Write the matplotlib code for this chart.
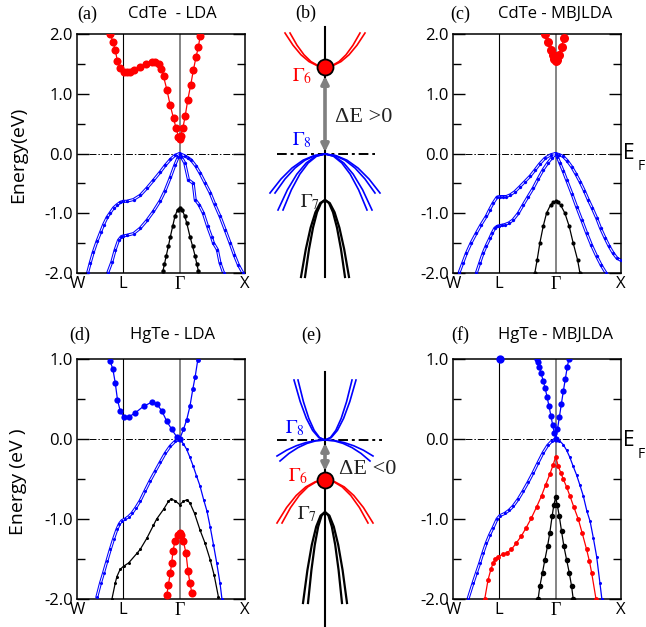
import numpy as np
import matplotlib
matplotlib.use("Agg")
import matplotlib.pyplot as plt

plt.rcParams['font.family'] = ['Open Sans', 'DejaVu Sans']
plt.rcParams['mathtext.fontset'] = 'stix'

W, H = 646, 627
SERIF = 'Liberation Serif'

# high-symmetry points along the path W-L-Gamma-X
kpath = [0.0, 0.707, 1.573, 2.573]
klabels = ['W', 'L', 'Γ', 'X']

# (a) CdTe - LDA
a_red_k = [0.51, 0.55, 0.586, 0.62, 0.66, 0.713, 0.76, 0.815, 0.87, 0.968, 1.05, 1.146, 1.2, 1.25, 1.29,
           1.325, 1.376, 1.427, 1.478, 1.518, 1.554, 1.573, 1.59, 1.62, 1.656, 1.697, 1.742, 1.783, 1.824,
           1.86, 1.885]
a_red_e = [2.0, 1.87, 1.73, 1.54, 1.43, 1.37, 1.36, 1.37, 1.39, 1.45, 1.50, 1.53, 1.53, 1.50, 1.42,
           1.29, 1.07, 0.81, 0.59, 0.42, 0.28, 0.25, 0.30, 0.42, 0.62, 0.90, 1.15, 1.40, 1.62,
           1.79, 1.96]
a_hh_k = [0.162, 0.203, 0.25, 0.306, 0.36, 0.407, 0.46, 0.51, 0.56, 0.61, 0.66, 0.707, 0.76, 0.866, 0.968,
          1.07, 1.17, 1.274, 1.35, 1.43, 1.50, 1.573, 1.65, 1.70, 1.75, 1.82, 1.885, 1.96, 2.04, 2.11,
          2.19, 2.27, 2.345, 2.41, 2.47, 2.54]
a_hh_e = [-2.0, -1.83, -1.65, -1.47, -1.32, -1.19, -1.07, -0.99, -0.91, -0.86, -0.82, -0.80, -0.80, -0.77, -0.70,
          -0.58, -0.45, -0.31, -0.20, -0.10, -0.03, 0.0, -0.04, -0.07, -0.11, -0.21, -0.33, -0.49, -0.66, -0.85,
          -1.05, -1.28, -1.50, -1.70, -1.86, -2.0]
a_lh_k = [0.47, 0.535, 0.585, 0.636, 0.68, 0.707, 0.76, 0.866, 0.968, 1.07, 1.17, 1.274, 1.35, 1.43, 1.50,
          1.55, 1.573, 1.60, 1.65, 1.707, 1.78, 1.81, 1.87, 1.935, 2.0, 2.06, 2.09, 2.15, 2.19, 2.245]
a_lh_e = [-2.0, -1.81, -1.61, -1.45, -1.39, -1.38, -1.37, -1.34, -1.25, -1.12, -0.97, -0.79, -0.62, -0.40, -0.19,
          -0.06, 0.0, -0.06, -0.16, -0.44, -0.50, -0.77, -0.86, -1.0, -1.22, -1.40, -1.5, -1.61, -1.83, -2.0]
a_so_k = [1.315, 1.34, 1.365, 1.40, 1.43, 1.465, 1.50, 1.54, 1.573, 1.61, 1.65, 1.68, 1.73, 1.77, 1.81, 1.835, 1.86]
a_so_e = [-1.97, -1.85, -1.72, -1.55, -1.39, -1.22, -1.05, -0.94, -0.91, -0.94, -1.05, -1.16, -1.39, -1.55, -1.72,
          -1.85, -1.97]

# (c) CdTe - MBJLDA
c_red_k = [1.407, 1.458, 1.494, 1.524, 1.55, 1.573, 1.596, 1.627, 1.662, 1.698]
c_red_e = [2.0, 1.87, 1.74, 1.65, 1.58, 1.55, 1.57, 1.65, 1.79, 1.93]
c_hh_k = [0.092, 0.15, 0.205, 0.28, 0.358, 0.43, 0.51, 0.56, 0.614, 0.675, 0.716, 0.76, 0.818, 0.88, 0.946,
          1.02, 1.10, 1.18, 1.253, 1.33, 1.407, 1.50, 1.573, 1.63, 1.688, 1.75, 1.816, 1.88, 1.944, 2.01,
          2.07, 2.135, 2.2, 2.26, 2.327, 2.39, 2.455, 2.51, 2.573]
c_hh_e = [-2.0, -1.83, -1.67, -1.49, -1.33, -1.19, -1.05, -0.94, -0.83, -0.73, -0.72, -0.72, -0.72, -0.69, -0.64,
          -0.56, -0.47, -0.38, -0.28, -0.17, -0.08, -0.02, 0.0, -0.02, -0.05, -0.12, -0.22, -0.34, -0.47, -0.62,
          -0.77, -0.92, -1.08, -1.25, -1.41, -1.55, -1.67, -1.75, -1.79]
c_lh_k = [0.358, 0.41, 0.46, 0.51, 0.563, 0.60, 0.64, 0.675, 0.706, 0.75, 0.793, 0.86, 0.92, 1.0, 1.074,
          1.15, 1.228, 1.30, 1.381, 1.45, 1.509, 1.573, 1.60, 1.637, 1.69, 1.739, 1.82, 1.893, 1.97, 2.046,
          2.12, 2.2, 2.27, 2.343]
c_lh_e = [-2.0, -1.83, -1.67, -1.54, -1.42, -1.33, -1.25, -1.22, -1.21, -1.20, -1.19, -1.16, -1.11, -1.0, -0.86,
          -0.72, -0.58, -0.43, -0.27, -0.16, -0.08, 0.0, -0.06, -0.16, -0.30, -0.44, -0.67, -0.89, -1.11, -1.33,
          -1.53, -1.72, -1.87, -2.0]
c_so_k = [1.253, 1.289, 1.33, 1.381, 1.432, 1.494, 1.535, 1.573, 1.61, 1.647, 1.714, 1.78, 1.841, 1.908, 1.944]
c_so_e = [-2.0, -1.78, -1.5, -1.22, -1.0, -0.86, -0.815, -0.80, -0.82, -0.86, -1.0, -1.22, -1.5, -1.78, -2.0]

# (d) HgTe - LDA
d_cb_k = [0.49, 0.51, 0.55, 0.586, 0.62, 0.662, 0.713, 0.79, 0.89, 1.02, 1.146, 1.22, 1.30, 1.376, 1.452,
          1.528, 1.573]
d_cb_e = [1.05, 0.97, 0.87, 0.70, 0.49, 0.35, 0.28, 0.275, 0.325, 0.41, 0.46, 0.44, 0.35, 0.22, 0.12,
          0.025, 0.0]
d_cb2_k = [1.573, 1.63, 1.68, 1.73, 1.773, 1.81, 1.85]
d_cb2_e = [0.0, 0.12, 0.24, 0.41, 0.62, 0.78, 0.99]
d_vb_k = [0.306, 0.36, 0.408, 0.46, 0.51, 0.56, 0.611, 0.65, 0.688, 0.739, 0.79, 0.84, 0.90, 0.968, 1.04,
          1.12, 1.20, 1.274, 1.35, 1.427, 1.50, 1.573]
d_vb_e = [-1.97, -1.80, -1.67, -1.52, -1.38, -1.25, -1.13, -1.06, -1.02, -1.0, -0.97, -0.93, -0.86, -0.77, -0.65,
          -0.52, -0.40, -0.29, -0.18, -0.09, -0.03, 0.0]
d_vb2_k = [1.573, 1.63, 1.68, 1.73, 1.78, 1.83, 1.885, 1.94, 1.99, 2.04, 2.09, 2.14, 2.19, 2.22]
d_vb2_e = [0.0, -0.06, -0.13, -0.23, -0.34, -0.46, -0.59, -0.76, -0.90, -1.10, -1.32, -1.55, -1.80, -2.0]
d_blk_k = [0.535, 0.586, 0.611, 0.66, 0.713, 0.79, 0.917, 0.968, 1.07, 1.17, 1.22, 1.325, 1.40, 1.44, 1.50,
           1.573, 1.63, 1.68, 1.73, 1.80, 1.885, 1.96, 2.04, 2.10, 2.165]
d_blk_e = [-2.0, -1.80, -1.72, -1.63, -1.59, -1.55, -1.43, -1.38, -1.24, -1.08, -1.0, -0.88, -0.78, -0.75, -0.77,
           -0.82, -0.78, -0.76, -0.80, -0.93, -1.14, -1.30, -1.51, -1.70, -1.97]
d_red_k = [1.375, 1.40, 1.43, 1.45, 1.47, 1.50, 1.54, 1.573, 1.60, 1.63, 1.67, 1.70, 1.73, 1.76]
d_red_e = [-1.95, -1.82, -1.67, -1.55, -1.40, -1.28, -1.20, -1.18, -1.20, -1.28, -1.43, -1.65, -1.80, -1.93]

# (f) HgTe - MBJLDA
f_cb_k = [1.279, 1.30, 1.32, 1.35, 1.38, 1.41, 1.44, 1.47, 1.50, 1.525, 1.55, 1.573,
          1.60, 1.63, 1.66, 1.69, 1.72, 1.75, 1.775]
f_cb_e = [1.0, 0.96, 0.90, 0.82, 0.73, 0.64, 0.53, 0.41, 0.29, 0.18, 0.08, 0.0,
          0.12, 0.28, 0.44, 0.60, 0.75, 0.90, 1.0]
f_Ldot_k = [0.716]
f_Ldot_e = [1.0]
f_vb_k = [0.23, 0.307, 0.36, 0.41, 0.46, 0.51, 0.56, 0.614, 0.675, 0.716, 0.793, 0.86, 0.92, 1.0, 1.074,
          1.15, 1.228, 1.30, 1.381, 1.45, 1.509, 1.573]
f_vb_e = [-2.0, -1.80, -1.67, -1.55, -1.42, -1.30, -1.20, -1.11, -1.0, -0.96, -0.93, -0.89, -0.84, -0.75, -0.65,
          -0.54, -0.42, -0.30, -0.17, -0.08, -0.03, 0.0]
f_vb2_k = [1.573, 1.63, 1.688, 1.74, 1.79, 1.84, 1.893, 1.945, 1.995, 2.05, 2.10, 2.15, 2.20, 2.25, 2.28]
f_vb2_e = [0.0, -0.02, -0.07, -0.14, -0.23, -0.34, -0.45, -0.58, -0.71, -0.90, -1.03, -1.24, -1.47, -1.80, -2.0]
f_red_k = [0.486, 0.537, 0.58, 0.614, 0.65, 0.69, 0.767, 0.83, 0.895, 0.97, 1.049, 1.12, 1.202, 1.28, 1.356,
           1.42, 1.483, 1.535, 1.573, 1.611, 1.65, 1.688, 1.74, 1.79, 1.85, 1.918, 1.98, 2.046, 2.09, 2.123, 2.19]
f_red_e = [-2.0, -1.76, -1.63, -1.55, -1.50, -1.47, -1.44, -1.42, -1.38, -1.30, -1.21, -1.11, -0.985, -0.85, -0.71,
           -0.57, -0.44, -0.32, -0.22, -0.34, -0.42, -0.50, -0.60, -0.71, -0.85, -1.0, -1.18, -1.38, -1.53, -1.67, -2.0]
f_blk_k = [1.304, 1.33, 1.371, 1.407, 1.448, 1.483, 1.519, 1.545, 1.573, 1.596, 1.627, 1.662, 1.698, 1.74, 1.78,
           1.816, 1.841]
f_blk_e = [-2.0, -1.84, -1.67, -1.51, -1.34, -1.17, -0.96, -0.82, -0.73, -0.82, -0.96, -1.15, -1.34, -1.51, -1.67,
           -1.84, -2.0]

# (b) schematic, CdTe (arbitrary units, Fermi level at 0)
b_red_x1 = [-40, -32, -24, -16, -8, 0, 8, 16, 24, 32, 40]
b_red_x2 = [-35, -28, -21, -14, -7, 0, 7, 14, 21, 28, 35]
b_red_y = [121, 108.8, 99.2, 92.4, 88.4, 87, 88.4, 92.4, 99.2, 108.8, 121]
b_g8_x1 = [-55, -44, -33, -22, -11, 0, 11, 22, 33, 44, 55]
b_g8_x2 = [-50, -40, -30, -20, -10, 0, 10, 20, 30, 40, 50]
b_g8_y1 = [-39, -25, -14, -6.2, -1.6, 0, -1.6, -6.2, -14, -25, -39]
b_g8_x3 = [-47, -37.6, -28.2, -18.8, -9.4, 0, 9.4, 18.8, 28.2, 37.6, 47]
b_g8_x4 = [-42, -33.6, -25.2, -16.8, -8.4, 0, 8.4, 16.8, 25.2, 33.6, 42]
b_g8_y2 = [-56, -35.8, -20.2, -9, -2.2, 0, -2.2, -9, -20.2, -35.8, -56]
b_g7_x1 = [-24, -19.2, -14.4, -9.6, -4.8, 0, 4.8, 9.6, 14.4, 19.2, 24]
b_g7_x2 = [-20, -16, -12, -8, -4, 0, 4, 8, 12, 16, 20]
b_g7_y = [-123, -95.3, -73.7, -58.3, -49.1, -46, -49.1, -58.3, -73.7, -95.3, -123]
b_g6_level = 87

# (e) schematic, HgTe
e_g8up_x1 = [-31, -24.8, -18.6, -12.4, -6.2, 0, 6.2, 12.4, 18.6, 24.8, 31]
e_g8up_x2 = [-27, -21.6, -16.2, -10.8, -5.4, 0, 5.4, 10.8, 16.2, 21.6, 27]
e_g8up_y = [60, 38.4, 21.6, 9.6, 2.4, 0, 2.4, 9.6, 21.6, 38.4, 60]
e_g8dn_x1 = [-48, -38.4, -28.8, -19.2, -9.6, 0, 9.6, 19.2, 28.8, 38.4, 48]
e_g8dn_y1 = [-16, -10.2, -5.8, -2.6, -0.6, 0, -0.6, -2.6, -5.8, -10.2, -16]
e_g8dn_x2 = [-45, -36, -27, -18, -9, 0, 9, 18, 27, 36, 45]
e_g8dn_y2 = [-21, -13.4, -7.6, -3.4, -0.8, 0, -0.8, -3.4, -7.6, -13.4, -21]
e_red_x1 = [-48, -38.4, -28.8, -19.2, -9.6, 0, 9.6, 19.2, 28.8, 38.4, 48]
e_red_x2 = [-43, -34.4, -25.8, -17.2, -8.6, 0, 8.6, 17.2, 25.8, 34.4, 43]
e_red_y = [-83, -67.5, -55.5, -46.9, -41.7, -40, -41.7, -46.9, -55.5, -67.5, -83]
e_g7_x1 = [-22, -17.6, -13.2, -8.8, -4.4, 0, 4.4, 8.8, 13.2, 17.6, 22]
e_g7_x2 = [-17, -13.6, -10.2, -6.8, -3.4, 0, 3.4, 6.8, 10.2, 13.6, 17]
e_g7_y = [-163, -130.2, -104.8, -86.6, -75.6, -72, -75.6, -86.6, -104.8, -130.2, -163]
e_g6_level = -40

fig = plt.figure(figsize=(W / 100, H / 100), dpi=100)


def px_axes(l, t, r, b):
    return fig.add_axes([l / W, 1 - b / H, (r - l) / W, (b - t) / H])


def ftext(px, py, s, **kw):
    fig.text(px / W, 1 - py / H, s, ha='center', va='center', **kw)


def band(ax, k, e, color, ms, double=False, lw=0.9):
    # spin-split pairs are drawn as two thin lines with a narrow gap
    if double:
        ax.plot(k, e, color=color, lw=2.2, zorder=2)
        ax.plot(k, e, color='white', lw=0.7, zorder=2.1)
    ax.plot(k, e, color=color, lw=0 if double else lw, marker='o', ms=ms, mew=0, zorder=3)


def setup_band(ax, ymin, ymax):
    ax.set_xlim(kpath[0], kpath[-1])
    ax.set_ylim(ymin, ymax)
    ax.set_xticks(kpath)
    labs = ax.set_xticklabels(klabels, fontsize=12)
    labs[2].set_fontfamily(SERIF)
    labs[2].set_fontsize(13)
    ax.tick_params(axis='x', length=0, pad=2)
    ax.set_yticks(np.arange(ymin, ymax + 0.1, 1.0))
    ax.set_yticklabels(['%.1f' % v for v in np.arange(ymin, ymax + 0.1, 1.0)], fontsize=12)
    ax.set_yticks(np.arange(ymin, ymax + 0.1, 0.5), minor=True)
    ax.tick_params(axis='y', which='both', direction='in', left=True, right=True, width=1.0, pad=3)
    ax.tick_params(axis='y', which='major', length=8.5)
    ax.tick_params(axis='y', which='minor', length=6)
    for s in ax.spines.values():
        s.set_linewidth(1.1)
    ax.axhline(0, color='k', lw=0.7, ls=(0, (7, 2, 1.5, 2)), zorder=1)
    ax.axvline(kpath[1], color='k', lw=0.8, zorder=1)
    ax.axvline(kpath[2], color='#707070', lw=1.2, zorder=1)


# (a)
ax = px_axes(77, 34, 245, 273)
setup_band(ax, -2.0, 2.0)
band(ax, a_hh_k, a_hh_e, 'blue', 2.4, double=True)
band(ax, a_lh_k, a_lh_e, 'blue', 2.4, double=True)
band(ax, a_so_k, a_so_e, 'black', 3.2)
band(ax, a_red_k, a_red_e, 'red', 5.8)

# (c)
ax = px_axes(453, 34, 621, 273)
setup_band(ax, -2.0, 2.0)
band(ax, c_hh_k, c_hh_e, 'blue', 2.4, double=True)
band(ax, c_lh_k, c_lh_e, 'blue', 2.4, double=True)
band(ax, c_so_k, c_so_e, 'black', 3.0)
band(ax, c_red_k, c_red_e, 'red', 6.5)

# (d)
ax = px_axes(77, 359, 245, 599)
setup_band(ax, -2.0, 1.0)
band(ax, d_vb_k, d_vb_e, 'blue', 2.2, double=True)
band(ax, d_vb2_k, d_vb2_e, 'blue', 2.2)
band(ax, d_blk_k, d_blk_e, 'black', 2.2)
band(ax, d_cb_k, d_cb_e, 'blue', 4.5)
band(ax, d_cb2_k, d_cb2_e, 'blue', 3.5)
band(ax, d_red_k, d_red_e, 'red', 5.8)

# (f)
ax = px_axes(453, 359, 621, 599)
setup_band(ax, -2.0, 1.0)
band(ax, f_vb_k, f_vb_e, 'blue', 2.2, double=True)
band(ax, f_vb2_k, f_vb2_e, 'blue', 2.2)
band(ax, f_red_k, f_red_e, 'red', 3.5)
band(ax, f_blk_k, f_blk_e, 'black', 4.0)
band(ax, f_cb_k, f_cb_e, 'blue', 4.5)
ax.plot(f_Ldot_k, f_Ldot_e, 'o', color='blue', ms=6, mew=0, clip_on=False, zorder=4)


def schematic(ax, g6, arrow_from, arrow_to):
    ax.set_axis_off()
    ax.plot(0, g6, 'o', ms=11.5, mfc='red', mec='black', mew=1.3, zorder=5)
    ax.annotate('', xy=(0, arrow_to), xytext=(0, arrow_from),
                arrowprops=dict(arrowstyle='<|-|>', color='#808080', lw=2.6,
                                mutation_scale=11, shrinkA=0, shrinkB=0), zorder=4)


# (b)
ax = px_axes(260, 20, 390, 285)
ax.set_xlim(-65, 65)
ax.set_ylim(-131, 134)
ax.plot([0, 0], [127, -123], color='k', lw=1.5, zorder=1)
ax.plot([-48, 50], [0, 0], color='k', lw=1.4, ls=(0, (5, 2, 1.5, 2)), zorder=1)
for xs in (b_red_x1, b_red_x2):
    ax.plot(xs, b_red_y, color='red', lw=1.2)
for xs, ys in ((b_g8_x1, b_g8_y1), (b_g8_x2, b_g8_y1), (b_g8_x3, b_g8_y2), (b_g8_x4, b_g8_y2)):
    ax.plot(xs, ys, color='blue', lw=1.2)
for xs in (b_g7_x1, b_g7_x2):
    ax.plot(xs, b_g7_y, color='black', lw=1.6)
schematic(ax, b_g6_level, 78, 2)
ax.text(-23, 78, r'$\Gamma_6$', color='red', fontsize=14, ha='center', va='center')
ax.text(-23, 14, r'$\Gamma_8$', color='blue', fontsize=14, ha='center', va='center')
ax.text(-15, -48, r'$\Gamma_7$', color='#222222', fontsize=14, ha='center', va='center')
ax.text(10, 37, 'ΔE >0', fontsize=16, family=SERIF, ha='left', va='center', color='#222222')

# (e)
ax = px_axes(260, 360, 390, 627)
ax.set_xlim(-65, 65)
ax.set_ylim(-187, 80)
ax.plot([0, 0], [68, -190], color='k', lw=1.5, zorder=1)
ax.plot([-48, 57], [0, 0], color='k', lw=1.4, ls=(0, (5, 2, 1.5, 2)), zorder=1)
for xs in (e_g8up_x1, e_g8up_x2):
    ax.plot(xs, e_g8up_y, color='blue', lw=1.2)
ax.plot(e_g8dn_x1, e_g8dn_y1, color='blue', lw=1.2)
ax.plot(e_g8dn_x2, e_g8dn_y2, color='blue', lw=1.2)
for xs in (e_red_x1, e_red_x2):
    ax.plot(xs, e_red_y, color='red', lw=1.2)
for xs in (e_g7_x1, e_g7_x2):
    ax.plot(xs, e_g7_y, color='black', lw=1.6)
schematic(ax, e_g6_level, -31, -3)
ax.text(-30, 12, r'$\Gamma_8$', color='blue', fontsize=14, ha='center', va='center')
ax.text(-27, -36, r'$\Gamma_6$', color='red', fontsize=14, ha='center', va='center')
ax.text(-18, -74, r'$\Gamma_7$', color='#222222', fontsize=14, ha='center', va='center')
ax.text(14, -30, 'ΔE <0', fontsize=16, family=SERIF, ha='left', va='center', color='#222222')

# titles and labels
ftext(87, 14, '(a)', fontsize=13, family=SERIF)
ftext(172, 14, 'CdTe  - LDA', fontsize=12)
ftext(306, 13, '(b)', fontsize=13, family=SERIF)
ftext(460, 14, '(c)', fontsize=13, family=SERIF)
ftext(555, 14, 'CdTe - MBJLDA', fontsize=12)
ftext(80, 335, '(d)', fontsize=13, family=SERIF)
ftext(172, 335, 'HgTe - LDA', fontsize=12)
ftext(311, 335, '(e)', fontsize=13, family=SERIF)
ftext(460, 335, '(f)', fontsize=13, family=SERIF)
ftext(555, 335, 'HgTe - MBJLDA', fontsize=12)

ftext(18, 155, 'Energy(eV)', fontsize=14, rotation=90)
ftext(18, 482, 'Energy (eV )', fontsize=14, rotation=90)

for y0 in (153, 440):
    ftext(629, y0, 'E', fontsize=15)
    ftext(641, y0 + 14, 'F', fontsize=10)

fig.savefig('out.png', dpi=100)
